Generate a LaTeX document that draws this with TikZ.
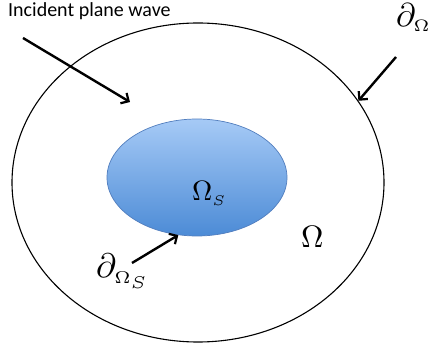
\documentclass[tikz,border=0pt]{standalone}
\usepackage[no-math]{fontspec}
\usepackage{graphicx}
\setmainfont{Carlito}
\usetikzlibrary{shapes.geometric,arrows.meta}
\definecolor{BlobTop}{RGB}{166,202,246}
\definecolor{BlobBottom}{RGB}{76,139,214}
\definecolor{BlobEdge}{RGB}{82,126,190}

\begin{document}
\begin{tikzpicture}[x=1pt, y=-1pt,
region/.style={draw=black, ellipse, line width=1.1pt, inner sep=0pt},
blob/.style={draw=BlobEdge, ellipse, line width=0.7pt, inner sep=0pt,
top color=BlobTop, bottom color=BlobBottom},
lbl/.style={inner sep=0pt, anchor=base west},
pointer/.style={draw=black, line width=2.4pt,
-{Straight Barb[length=6pt, width=12pt, line width=2.2pt]}}]
\useasboundingbox (0,0) rectangle (429,350);
\node[region, minimum width=372pt, minimum height=319pt] (outer) at (198,182.5) {};
\node[blob, minimum width=180pt, minimum height=117pt] (inner) at (197,177.5) {};
\node[lbl, font=\fontsize{20}{22}\selectfont] (wave) at (8,17) {Incident plane wave};
\node[lbl] (dO) at (396,27) {\scalebox{3.3}{$\partial_{\scriptscriptstyle\Omega}$}};
\node[lbl] (dOS) at (96,278) {\scalebox{3.4}{$\partial_{\scriptscriptstyle\Omega_S}$}};
\node[lbl] (OS) at (192,201) {\scalebox{2.8}{$\Omega_{\scriptscriptstyle S}$}};
\node[lbl] (O) at (301,248) {\scalebox{3.1}{$\Omega$}};
% arrows
\coordinate (wavetail) at (23,38);
\coordinate (wavehead) at (130,102);
\coordinate (dOtail) at (396,57);
\coordinate (dOStail) at (132,263);
\draw[pointer] (wavetail) -- (wavehead);
\draw[pointer] (dOtail) -- (outer.27);
\draw[pointer] (dOStail) -- (inner.252);
\end{tikzpicture}
\end{document}
